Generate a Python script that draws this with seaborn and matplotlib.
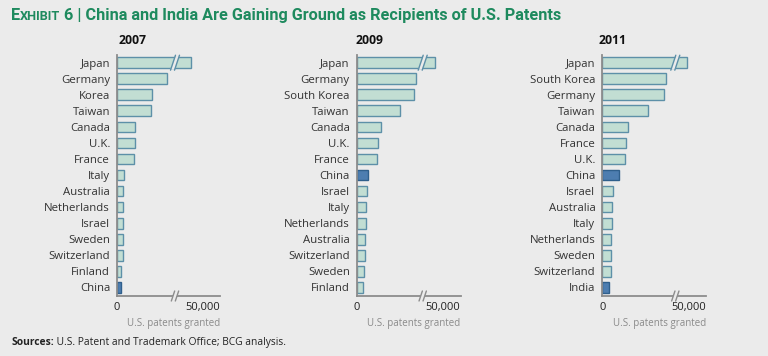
import numpy as np
import pandas as pd
import seaborn as sns
import matplotlib.pyplot as plt
from matplotlib.transforms import IdentityTransform
from matplotlib.patches import Polygon

# data (U.S. patents granted)
countries_2007 = ["Japan", "Germany", "Korea", "Taiwan", "Canada", "U.K.", "France", "Italy",
                  "Australia", "Netherlands", "Israel", "Sweden", "Switzerland", "Finland", "China"]
patents_2007 = [33400, 9000, 6300, 6100, 3300, 3300, 3100, 1300, 1150, 1150, 1000, 1000, 1000, 800, 800]

countries_2009 = ["Japan", "Germany", "South Korea", "Taiwan", "Canada", "U.K.", "France", "China",
                  "Israel", "Italy", "Netherlands", "Australia", "Switzerland", "Sweden", "Finland"]
patents_2009 = [35500, 9000, 8700, 6500, 3700, 3250, 3100, 1700, 1550, 1400, 1400, 1250, 1250, 1100, 950]

countries_2011 = ["Japan", "South Korea", "Germany", "Taiwan", "Canada", "France", "U.K.", "China",
                  "Israel", "Australia", "Italy", "Netherlands", "Sweden", "Switzerland", "India"]
patents_2011 = [46100, 12300, 11900, 8800, 5000, 4550, 4300, 3200, 2100, 1900, 1900, 1750, 1750, 1750, 1350]

years = ["2007", "2009", "2011"]
highlight = ["China", "India"]

BG = "#ebebeb"
GREEN = "#1e8a5e"
FILL = "#c2ded3"
EDGE = "#5d90a8"
HI_FILL = "#4d7db0"
HI_EDGE = "#2f5f8c"
AXIS = "#8c8c8c"

sns.set_theme(style="white")
plt.rcParams["font.family"] = ["Open Sans", "DejaVu Sans"]

fig = plt.figure(figsize=(7.68, 3.56), dpi=100, facecolor=BG)
W, H = 768, 356

# panel layout in pixels: axis origin x, patents per px, break position (px), axis width
panels = [
    (117.0, 180.0, 58, 103),
    (356.7, 151.5, 66, 104),
    (602.3, 191.6, 73, 104),
]
year_x = [133, 369, 613]
top_px, bot_px = 55, 296

datasets = [(countries_2007, patents_2007), (countries_2009, patents_2009),
            (countries_2011, patents_2011)]

for (names, vals), (x0, per_px, brk_px, width_px), yr, yx in zip(datasets, panels, years, year_x):
    ax = fig.add_axes([x0 / W, 1 - bot_px / H, width_px / W, (bot_px - top_px) / H])
    ax.set_facecolor(BG)

    df = pd.DataFrame({"country": names, "patents": vals})
    df["hl"] = np.where(df["country"].isin(highlight), "hi", "lo")

    sns.barplot(data=df, x="patents", y="country", hue="hl", palette={"hi": HI_FILL, "lo": FILL},
                dodge=False, legend=False, width=0.67, edgecolor=EDGE, linewidth=1.0,
                saturation=1, ax=ax)
    for p in ax.patches:
        if p.get_facecolor()[:3] == plt.matplotlib.colors.to_rgb(HI_FILL):
            p.set_edgecolor(HI_EDGE)

    # broken axis: linear up to the break, compressed after it
    B = brk_px * per_px
    c = (86 * per_px - B) / (50000 - B)

    def fwd(x, B=B, c=c):
        x = np.asarray(x, dtype=float)
        return np.where(x <= B, x, B + (x - B) * c)

    def inv(y, B=B, c=c):
        y = np.asarray(y, dtype=float)
        return np.where(y <= B, y, B + (y - B) / c)

    ax.set_xscale("function", functions=(fwd, inv))
    ax.set_xlim(0, float(inv(width_px * per_px)))
    ax.set_ylim(len(names) - 1 + 0.54, -0.48)

    ax.set_xticks([0, 50000])
    ax.set_xticklabels(["0", "50,000"])
    ax.tick_params(axis="x", length=0, pad=4, labelsize=8, labelcolor="#222222")
    ax.tick_params(axis="y", length=0, pad=5, labelsize=8.2, labelcolor="#333333")
    ax.set_xlabel("")
    ax.set_ylabel("")
    ax.text(1.0, -0.09, "U.S. patents granted", transform=ax.transAxes, ha="right", va="top",
            fontsize=7, color="#8a8a8a")

    for s in ["top", "right"]:
        ax.spines[s].set_visible(False)
    for s in ["left", "bottom"]:
        ax.spines[s].set_color(AXIS)
        ax.spines[s].set_linewidth(1.3)

    fig.text(yx / W, 1 - 40 / H, yr, ha="center", va="center", fontsize=8.8,
             fontweight="bold", color="#111111")

    # break marks ("//") on the bottom axis and on the longest bar
    bx = ax.transData.transform((B, 0))[0]
    ybar = ax.transData.transform((0, 0))[1]
    yaxis = ax.transAxes.transform((0, 0))[1]
    for yc, hh in [(ybar, 7.5), (yaxis, 5)]:
        gap = Polygon([(bx - 2 - hh / 3, yc - hh + 1), (bx + 2 - hh / 3, yc - hh + 1),
                       (bx + 2 + hh / 3, yc + hh - 1), (bx - 2 + hh / 3, yc + hh - 1)],
                      closed=True, facecolor=BG, edgecolor="none",
                      transform=IdentityTransform(), clip_on=False, zorder=5)
        ax.add_artist(gap)
        for off in (-2, 2):
            ax.plot([bx + off - hh / 3, bx + off + hh / 3], [yc - hh, yc + hh],
                    color=EDGE if yc == ybar else AXIS,
                    lw=1.0, transform=IdentityTransform(), clip_on=False, zorder=6)

# title with small caps "Exhibit"
fig.canvas.draw()
r = fig.canvas.get_renderer()
tx = 11
ty = 1 - 20 / H
for txt, size in [("E", 11.7), ("XHIBIT", 9.2), (" 6 | China and India Are Gaining Ground as Recipients of U.S. Patents", 11.7)]:
    t = fig.text(tx / W, ty, txt, fontsize=size, fontweight="bold", color=GREEN, ha="left",
                 va="baseline", family=["Roboto", "DejaVu Sans"])
    tx += t.get_window_extent(r).width

sx = 11
for txt, wt in [("Sources:", "bold"), (" U.S. Patent and Trademark Office; BCG analysis.", "normal")]:
    t = fig.text(sx / W, 1 - 345 / H, txt, fontsize=7.4, fontweight=wt, color="#222222",
                 ha="left", va="baseline")
    sx += t.get_window_extent(r).width

fig.savefig("out.png", dpi=100, facecolor=BG)
